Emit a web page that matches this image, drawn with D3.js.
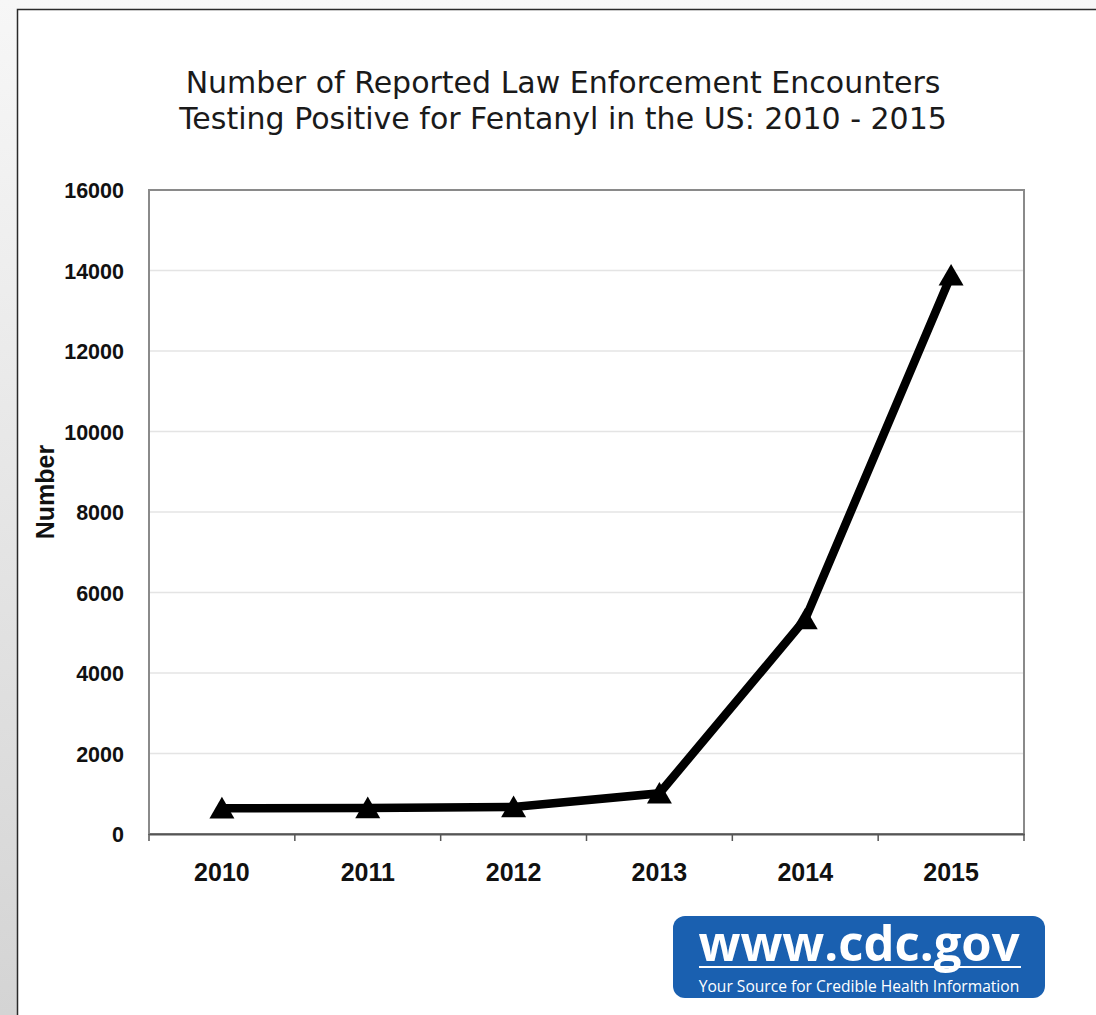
<!DOCTYPE html>
<html>
<head>
<meta charset="utf-8">
<script src="https://cdn.jsdelivr.net/npm/d3@7/dist/d3.min.js"></script>
<style>
  body { margin:0; padding:0; background:#fff; }
  svg { display:block; }
</style>
</head>
<body>
<div id="plot"></div>
<script>
// data
var years = ['2010','2011','2012','2013','2014','2015'];
var encounters = [640, 645, 670, 1010, 5340, 13880];
var yTicks = [0,2000,4000,6000,8000,10000,12000,14000,16000];
var titleLines = ['Number of Reported Law Enforcement Encounters',
                  'Testing Positive for Fentanyl in the US: 2010 - 2015'];

var W = 1096, H = 1015;
var margin = {t:190,r:72,b:181,l:149};
var width = W - margin.l - margin.r,
    height = H - margin.t - margin.b;

var svg = d3.select('#plot')
    .append('svg')
    .attr('width',W)
    .attr('height',H);

// grey page strip on the left, card on top
var grad = svg.append('defs').append('linearGradient')
    .attr('id','strip').attr('x1',0).attr('y1',0).attr('x2',0).attr('y2',1);
grad.append('stop').attr('offset','0%').attr('stop-color','#f7f7f7');
grad.append('stop').attr('offset','100%').attr('stop-color','#d4d4d4');
svg.append('rect').attr('width',W).attr('height',H).style('fill','url(#strip)');
svg.append('rect')
    .attr('x',17.5).attr('y',9.5)
    .attr('width',W).attr('height',H)
    .style('fill','#fff')
    .style('stroke','#2a2a2a')
    .style('stroke-width',1.5);

// title
svg.append('g').selectAll('text')
    .data(titleLines)
  .enter().append('text')
    .attr('x',563)
    .attr('y',function(d,i){ return 93 + i*36; })
    .attr('text-anchor','middle')
    .style('font-family','DejaVu Sans, Verdana, sans-serif')
    .style('font-size','30px')
    .style('fill','#1a1a1a')
    .text(function(d){ return d; });

var plot = svg.append('g')
    .attr('class','plot-area')
    .attr('transform','translate('+margin.l+','+margin.t+')');

var x = d3.scaleBand().domain(years).range([0,width]);
var y = d3.scaleLinear().domain([0,16000]).range([height,0]);

// gridlines
plot.append('g').selectAll('line')
    .data(yTicks.slice(1))
  .enter().append('line')
    .attr('x1',0).attr('x2',width)
    .attr('y1',function(d){ return y(d); })
    .attr('y2',function(d){ return y(d); })
    .style('stroke','#e4e4e4')
    .style('stroke-width',1.5);

// frame
plot.append('rect')
    .attr('width',width)
    .attr('height',height)
    .style('fill','none')
    .style('stroke','#8a8a8a')
    .style('stroke-width',2);

// y axis labels
var yAxis = d3.axisLeft(y).tickValues(yTicks).tickSize(0).tickPadding(25).tickFormat(d3.format('d'));
plot.append('g').call(yAxis)
    .call(function(g){ g.select('.domain').remove(); })
    .selectAll('text')
    .attr('dy','0.35em')
    .style('font-family','Liberation Sans, Arial, sans-serif')
    .style('font-weight','bold')
    .style('font-size','21.5px')
    .style('fill','#111');

// x axis: ticks between categories
var xAxis = d3.axisBottom(x).tickSize(0).tickPadding(29);
var gx = plot.append('g').attr('transform','translate(0,'+height+')').call(xAxis);
gx.select('.domain').style('stroke','#555').style('stroke-width',2);
gx.selectAll('text')
    .style('font-family','Liberation Sans, Arial, sans-serif')
    .style('font-weight','bold')
    .style('font-size','25px')
    .style('fill','#111');
gx.append('g').selectAll('line')
    .data(d3.range(years.length + 1))
  .enter().append('line')
    .attr('x1',function(i){ return i*x.step(); })
    .attr('x2',function(i){ return i*x.step(); })
    .attr('y1',0).attr('y2',7)
    .style('stroke','#555')
    .style('stroke-width',1.5);

// y axis title
svg.append('text')
    .attr('transform','translate(54,492) rotate(-90)')
    .attr('text-anchor','middle')
    .style('font-family','Liberation Sans, Arial, sans-serif')
    .style('font-weight','bold')
    .style('font-size','25px')
    .style('fill','#111')
    .text('Number');

// the series
var line = d3.line()
    .x(function(d,i){ return x(years[i]) + x.bandwidth()/2; })
    .y(function(d){ return y(d); });

plot.append('path')
    .datum(encounters)
    .attr('d',line)
    .style('fill','none')
    .style('stroke','#000')
    .style('stroke-width',8.5)
    .style('stroke-linejoin','miter');

// triangles sit on their box centre, not the centroid
var tri = d3.symbol().type(d3.symbolTriangle).size(270);
plot.append('g').selectAll('path')
    .data(encounters)
  .enter().append('path')
    .attr('d',tri)
    .attr('transform',function(d,i){
        return 'translate('+(x(years[i]) + x.bandwidth()/2)+','+(y(d)+3)+')';
    })
    .style('fill','#000');

// cdc.gov badge
var badge = svg.append('g').attr('transform','translate(673,916)');
badge.append('rect')
    .attr('width',372).attr('height',82)
    .attr('rx',12)
    .style('fill','#1a60b0');
badge.append('text')
    .attr('x',186).attr('y',45)
    .attr('text-anchor','middle')
    .style('font-family','Open Sans, sans-serif')
    .style('font-weight','bold')
    .style('font-size','49px')
    .style('fill','#fff')
    .text('www.cdc.gov');
badge.append('line')
    .attr('x1',26).attr('x2',348)
    .attr('y1',51).attr('y2',51)
    .style('stroke','#fff')
    .style('stroke-width',2);
badge.append('text')
    .attr('x',186).attr('y',76)
    .attr('text-anchor','middle')
    .style('font-family','Open Sans, sans-serif')
    .style('font-size','15.6px')
    .style('fill','#fff')
    .text('Your Source for Credible Health Information');
</script>
</body>
</html>
